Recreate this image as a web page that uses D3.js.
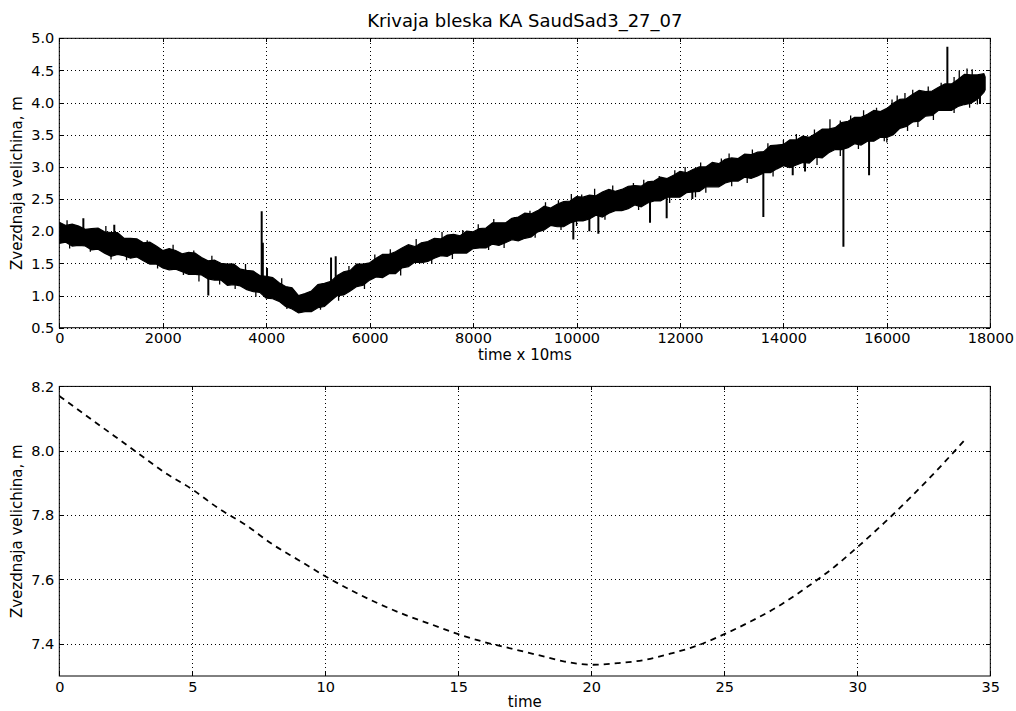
<!DOCTYPE html>
<html>
<head>
<meta charset="utf-8">
<script src="https://cdn.jsdelivr.net/npm/d3@7"></script>
<style>
body { margin: 0; background: #fff; }
text { font-family: "DejaVu Sans", sans-serif; fill: #000; }
</style>
</head>
<body>
<div id="chart"></div>
<script>
// top panel: upper / lower edge of the noisy trace, read every 125 time units
const bandT = d3.range(0, 17876, 125).concat([17900]);
const bandHi = [2.14, 2.09, 2.11, 2.08, 2.03, 2.04, 2.05, 1.99, 1.98, 1.98,
  1.89, 1.89, 1.88, 1.82, 1.83, 1.77, 1.70, 1.73, 1.70, 1.65,
  1.67, 1.66, 1.59, 1.54, 1.55, 1.50, 1.49, 1.49, 1.41, 1.39,
  1.38, 1.31, 1.30, 1.28, 1.20, 1.14, 1.12, 1.00, 1.03, 1.07,
  1.17, 1.19, 1.22, 1.31, 1.37, 1.39, 1.49, 1.49, 1.51, 1.58,
  1.64, 1.64, 1.68, 1.74, 1.79, 1.76, 1.82, 1.84, 1.89, 1.88,
  1.94, 1.95, 1.93, 2.00, 1.99, 2.04, 2.05, 2.13, 2.13, 2.13,
  2.20, 2.22, 2.28, 2.27, 2.32, 2.39, 2.36, 2.42, 2.46, 2.47,
  2.54, 2.53, 2.56, 2.55, 2.61, 2.65, 2.62, 2.65, 2.70, 2.71,
  2.70, 2.77, 2.78, 2.84, 2.82, 2.87, 2.93, 2.91, 2.96, 3.00,
  3.00, 3.07, 3.05, 3.12, 3.14, 3.13, 3.20, 3.19, 3.23, 3.24,
  3.33, 3.34, 3.35, 3.42, 3.42, 3.48, 3.46, 3.52, 3.59, 3.59,
  3.61, 3.69, 3.71, 3.77, 3.77, 3.82, 3.88, 3.86, 3.91, 3.99,
  4.05, 4.06, 4.13, 4.19, 4.17, 4.18, 4.24, 4.29, 4.29, 4.36,
  4.44, 4.43, 4.43, 4.45, 4.40];
const bandLo = [1.81, 1.83, 1.77, 1.78, 1.77, 1.71, 1.72, 1.66, 1.61, 1.64,
  1.62, 1.58, 1.60, 1.54, 1.49, 1.49, 1.43, 1.40, 1.41, 1.37,
  1.33, 1.33, 1.32, 1.26, 1.24, 1.24, 1.16, 1.17, 1.15, 1.09,
  1.06, 1.05, 0.96, 0.95, 0.91, 0.83, 0.79, 0.73, 0.75, 0.75,
  0.81, 0.83, 0.92, 1.00, 1.01, 1.07, 1.14, 1.16, 1.24, 1.29,
  1.28, 1.34, 1.34, 1.43, 1.45, 1.52, 1.51, 1.53, 1.58, 1.62,
  1.61, 1.66, 1.66, 1.66, 1.73, 1.74, 1.74, 1.80, 1.78, 1.82,
  1.87, 1.85, 1.89, 1.91, 1.99, 2.02, 2.09, 2.07, 2.07, 2.13,
  2.16, 2.16, 2.19, 2.25, 2.22, 2.28, 2.32, 2.32, 2.35, 2.41,
  2.38, 2.44, 2.47, 2.47, 2.53, 2.53, 2.53, 2.60, 2.61, 2.62,
  2.69, 2.69, 2.69, 2.75, 2.78, 2.78, 2.84, 2.82, 2.86, 2.91,
  2.91, 2.97, 3.02, 2.99, 3.03, 3.07, 3.06, 3.15, 3.14, 3.22,
  3.27, 3.27, 3.30, 3.36, 3.34, 3.40, 3.40, 3.46, 3.46, 3.50,
  3.60, 3.63, 3.70, 3.71, 3.79, 3.80, 3.88, 3.88, 3.88, 3.94,
  3.97, 3.99, 4.05, 4.16, 4.20];
// spikes: [time, tip value]
const spikes = [[465, 2.20], [1063, 2.10], [2881, 1.00], [3913, 2.31], [3935, 1.82], [4016, 1.43],
  [5254, 1.59], [5344, 1.61], [9938, 1.87], [10248, 2.00], [10422, 1.96], [11421, 2.13], [11743, 2.20],
  [12239, 2.50], [13612, 2.22], [14180, 2.87], [14418, 2.93], [15160, 1.76], [15656, 2.87],
  [17170, 4.87], [17800, 3.98]];
// small whiskers sticking out of the trace
const whiskers = [[150, 2.17], [900, 2.08], [1700, 1.86], [2200, 1.79], [2600, 1.70], [2950, 1.62],
  [3300, 1.50], [3600, 1.49], [4300, 1.27], [5600, 1.46], [6100, 1.64], [6400, 1.72], [6900, 1.88],
  [7400, 1.99], [7800, 2.02], [8100, 2.11], [8400, 2.19], [8800, 2.22], [9100, 2.32], [9400, 2.45],
  [9650, 2.48], [9900, 2.58], [10100, 2.57], [10350, 2.66], [10700, 2.71], [11100, 2.75], [11300, 2.80],
  [11600, 2.86], [11900, 2.95], [12100, 3.00], [12400, 3.07], [12800, 3.13], [12950, 3.21], [13400, 3.27],
  [13700, 3.37], [14000, 3.42], [14250, 3.51], [14600, 3.58], [14900, 3.74], [15100, 3.72], [15300, 3.80],
  [15550, 3.88], [15800, 3.92], [16100, 4.05], [16200, 4.11], [16350, 4.15], [16500, 4.20], [16800, 4.25],
  [17050, 4.31], [17300, 4.40], [17400, 4.50], [17550, 4.53], [17650, 4.52],
  [200, 1.73], [600, 1.68], [1000, 1.56], [1300, 1.55], [1900, 1.42], [2400, 1.32], [2700, 1.22],
  [3100, 1.17], [3400, 1.10], [3800, 0.98], [4400, 0.79], [5050, 0.78], [5400, 0.92], [5900, 1.10],
  [6600, 1.31], [7200, 1.49], [7600, 1.57], [8300, 1.71], [8600, 1.74], [9200, 1.90], [9700, 2.02],
  [10000, 2.08], [10550, 2.18], [11200, 2.33], [11800, 2.44], [12300, 2.53], [12500, 2.60], [13000, 2.70],
  [13300, 2.75], [13800, 2.85], [14400, 2.99], [14650, 3.03], [15100, 3.17], [15450, 3.28], [15950, 3.40],
  [16000, 3.38], [16400, 3.56], [16600, 3.62], [16900, 3.73], [17300, 3.84], [17600, 3.92], [17750, 3.97]];
const topXTicks = [0, 2000, 4000, 6000, 8000, 10000, 12000, 14000, 16000, 18000];
const topYTicks = [0.5, 1.0, 1.5, 2.0, 2.5, 3.0, 3.5, 4.0, 4.5, 5.0];

// bottom panel: fitted curve
const fitT = d3.range(0, 35);
const fitV = [8.17, 8.11, 8.05, 7.99, 7.93, 7.88, 7.82, 7.77, 7.71, 7.66, 7.61, 7.565, 7.525, 7.49, 7.46,
  7.43, 7.405, 7.385, 7.365, 7.345, 7.335, 7.34, 7.35, 7.37, 7.395, 7.43, 7.47, 7.515, 7.57, 7.63, 7.70,
  7.775, 7.855, 7.94, 8.03];
const botXTicks = [0, 5, 10, 15, 20, 25, 30, 35];
const botYTicks = [7.4, 7.6, 7.8, 8.0, 8.2];

const W = 1016, H = 711;
const left = 59.3, right = 990.3;
const FS = 14.5;

const svg = d3.select("#chart").append("svg")
  .attr("width", W).attr("height", H);

function panel(top, bottom, xDom, yDom, xTicks, yTicks, xFmt, yFmt, id) {
  const x = d3.scaleLinear().domain(xDom).range([left, right]);
  const y = d3.scaleLinear().domain(yDom).range([bottom, top]);
  const g = svg.append("g");
  const h = bottom - top, w = right - left;

  // grid
  g.append("g").attr("transform", `translate(0,${bottom})`)
    .call(d3.axisBottom(x).tickValues(xTicks).tickSize(-h).tickFormat(""))
    .call(a => a.select(".domain").remove())
    .selectAll("line").attr("stroke", "#000").attr("stroke-width", 1)
    .attr("stroke-dasharray", "1,3").attr("shape-rendering", "crispEdges");
  g.append("g").attr("transform", `translate(${left},0)`)
    .call(d3.axisLeft(y).tickValues(yTicks).tickSize(-w).tickFormat(""))
    .call(a => a.select(".domain").remove())
    .selectAll("line").attr("stroke", "#000").attr("stroke-width", 1)
    .attr("stroke-dasharray", "1,3").attr("shape-rendering", "crispEdges");

  // ticks on all sides, pointing inward
  const style = a => {
    a.select(".domain").remove();
    a.selectAll("line").attr("stroke", "#000").attr("shape-rendering", "crispEdges");
    a.selectAll("text").attr("font-size", FS).attr("font-family", "DejaVu Sans");
  };
  g.append("g").attr("transform", `translate(0,${bottom})`)
    .call(d3.axisBottom(x).tickValues(xTicks).tickSizeInner(-4).tickSizeOuter(0).tickPadding(5.5).tickFormat(xFmt))
    .call(style);
  g.append("g").attr("transform", `translate(0,${top})`)
    .call(d3.axisTop(x).tickValues(xTicks).tickSizeInner(-4).tickSizeOuter(0).tickFormat(""))
    .call(style);
  g.append("g").attr("transform", `translate(${left},0)`)
    .call(d3.axisLeft(y).tickValues(yTicks).tickSizeInner(-4).tickSizeOuter(0).tickPadding(5).tickFormat(yFmt))
    .call(style);
  g.append("g").attr("transform", `translate(${right},0)`)
    .call(d3.axisRight(y).tickValues(yTicks).tickSizeInner(-4).tickSizeOuter(0).tickFormat(""))
    .call(style);

  svg.append("clipPath").attr("id", id)
    .append("rect").attr("x", left).attr("y", top).attr("width", w).attr("height", h);

  const plot = svg.append("g").attr("clip-path", `url(#${id})`);
  const frame = () => svg.append("rect").attr("x", left).attr("y", top)
    .attr("width", w).attr("height", h).attr("fill", "none").attr("stroke", "#000").attr("stroke-width", 1);
  return { x, y, plot, frame };
}

// ---- top panel
const p1 = panel(38.3, 327.7, [0, 18000], [0.5, 5.0], topXTicks, topYTicks, d3.format("d"), d3.format(".1f"), "clipTop");

const band = bandT.map((t, i) => ({ t, hi: bandHi[i], lo: bandLo[i] }));
p1.plot.append("path").datum(band)
  .attr("d", d3.area().x(d => p1.x(d.t)).y0(d => p1.y(d.lo)).y1(d => p1.y(d.hi)))
  .attr("fill", "#000").attr("stroke", "#000").attr("stroke-width", 1.2);

const midAt = t => {
  const i = Math.max(1, Math.min(bandT.length - 1, d3.bisectLeft(bandT, t)));
  const f = (t - bandT[i - 1]) / (bandT[i] - bandT[i - 1]);
  const a = (bandHi[i - 1] + bandLo[i - 1]) / 2, b = (bandHi[i] + bandLo[i]) / 2;
  return a + (b - a) * f;
};
p1.plot.selectAll(".whisker").data(whiskers).enter().append("line")
  .attr("x1", d => p1.x(d[0])).attr("x2", d => p1.x(d[0]))
  .attr("y1", d => p1.y(midAt(d[0]))).attr("y2", d => p1.y(d[1]))
  .attr("stroke", "#000").attr("stroke-width", 1.3);
p1.plot.selectAll(".spike").data(spikes).enter().append("line")
  .attr("x1", d => p1.x(d[0])).attr("x2", d => p1.x(d[0]))
  .attr("y1", d => p1.y(midAt(d[0]))).attr("y2", d => p1.y(d[1]))
  .attr("stroke", "#000").attr("stroke-width", 2);
p1.frame();

svg.append("text").attr("x", (left + right) / 2).attr("y", 27)
  .attr("text-anchor", "middle").attr("font-size", 18).text("Krivaja bleska KA SaudSad3_27_07");
svg.append("text").attr("x", (left + right) / 2).attr("y", 359.5)
  .attr("text-anchor", "middle").attr("font-size", 15).text("time x 10ms");
svg.append("text").attr("transform", `translate(21.5,${(38.3 + 327.7) / 2}) rotate(-90)`)
  .attr("text-anchor", "middle").attr("font-size", 15).text("Zvezdnaja velichina, m");

// ---- bottom panel
const p2 = panel(386.4, 676, [0, 35], [7.3, 8.2], botXTicks, botYTicks, d3.format("d"), d3.format(".1f"), "clipBot");
p2.plot.append("path").datum(fitT.map((t, i) => [t, fitV[i]]))
  .attr("d", d3.line().x(d => p2.x(d[0])).y(d => p2.y(d[1])).curve(d3.curveMonotoneX))
  .attr("fill", "none").attr("stroke", "#000").attr("stroke-width", 1.8).attr("stroke-dasharray", "6,5");
p2.frame();

svg.append("text").attr("x", (left + right) / 2).attr("y", 707)
  .attr("text-anchor", "middle").attr("font-size", 15).text("time");
svg.append("text").attr("transform", `translate(21.5,${(386.4 + 676) / 2}) rotate(-90)`)
  .attr("text-anchor", "middle").attr("font-size", 15).text("Zvezdnaja velichina, m");
</script>
</body>
</html>
